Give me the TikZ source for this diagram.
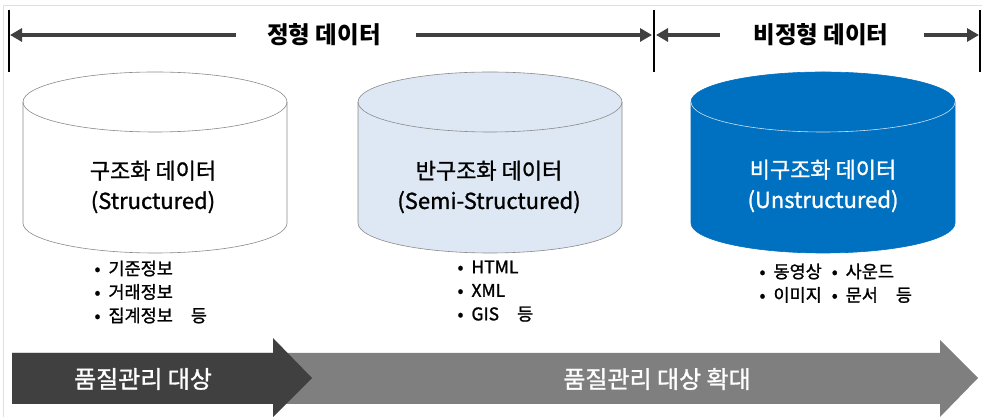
\documentclass[tikz,border=0pt]{standalone}
\usepackage{fontspec}
\newfontfamily\kr{Noto Sans CJK KR}
\newfontfamily\krm{Noto Sans CJK KR}[FakeBold=1.2]
\usetikzlibrary{arrows.meta}
\definecolor{arrowdark}{HTML}{404040}
\definecolor{arrowgray}{HTML}{7F7F7F}
\definecolor{semifill}{HTML}{DEE8F4}
\definecolor{unsfill}{HTML}{0070C0}
\definecolor{cylline}{HTML}{8A8A8A}
\newcommand\itm{•\hspace{8pt}}
\tikzset{
  bar/.style={line width=1.2pt, black},
  span/.style={line width=4pt, arrowdark, -{Triangle[length=12pt,width=13pt]}},
  head/.style={font=\kr\bfseries\fontsize{23.5}{26}\selectfont, text=black},
  cyllabel/.style={font=\krm\fontsize{22}{30}\selectfont, align=center, text=black},
  items/.style={font=\krm\fontsize{17.5}{23.5}\selectfont, align=left, anchor=north west, text=black},
  banner/.style={font=\krm\fontsize{24}{26}\selectfont, text=white},
}
% database cylinder: #1 centre x, #2 fill, #3 outline, #4 top rim colour
\newcommand\dbcyl[4]{%
  \fill[#2] (#1-132,315) -- (#1-132,194)
    arc[start angle=180,end angle=360,x radius=132,y radius=30]
    -- (#1+132,315)
    arc[start angle=0,end angle=180,x radius=132,y radius=30] -- cycle;
  \draw[#3, line width=0.6pt] (#1-132,315) -- (#1-132,194)
    arc[start angle=180,end angle=360,x radius=132,y radius=30]
    -- (#1+132,315)
    arc[start angle=0,end angle=180,x radius=132,y radius=30];
  \draw[#4, line width=0.6pt] (#1-132,315)
    arc[start angle=180,end angle=360,x radius=132,y radius=30];
}
\begin{document}
\begin{tikzpicture}[x=1pt,y=1pt]
\useasboundingbox (0,0) rectangle (982,417);
% faint frame
\draw[black!12, line width=0.8pt] (3,0) -- (3,412) -- (982,412);

% range bars
\coordinate (b1t) at (9,407);   \coordinate (b1b) at (9,345);
\coordinate (b2t) at (654,407); \coordinate (b2b) at (654,345);
\coordinate (b3t) at (980,407); \coordinate (b3b) at (980,345);
\draw[bar] (b1t) -- (b1b);
\draw[bar] (b2t) -- (b2b);
\draw[bar] (b3t) -- (b3b);

% range titles and arrows
\node[head] (structured) at (324,382) {정형 데이터};
\node[head] (unstructured) at (821,382) {비정형 데이터};
\coordinate (s1) at (236,382); \coordinate (s1e) at (10,382);
\coordinate (s2) at (416,382); \coordinate (s2e) at (652,382);
\coordinate (u1) at (720,382); \coordinate (u1e) at (656,382);
\coordinate (u2) at (924,382); \coordinate (u2e) at (979,382);
\draw[span] (s1) -- (s1e);
\draw[span] (s2) -- (s2e);
\draw[span] (u1) -- (u1e);
\draw[span] (u2) -- (u2e);

% cylinders
\dbcyl{155}{white}{cylline}{cylline}
\dbcyl{490}{semifill}{cylline}{cylline}
\dbcyl{823}{unsfill}{unsfill}{white!80!unsfill}

\node[cyllabel] (c1) at (153,230) {구조화 데이터\\(Structured)};
\node[cyllabel] (c2) at (489,230) {반구조화 데이터\\(Semi-Structured)};
\node[cyllabel, text=white] (c3) at (823,231) {비구조화 데이터\\(Unstructured)};

% examples
\node[items] (l1) at (91,160) {\itm 기준정보\\\itm 거래정보\\\itm 집계정보\hspace{18pt}등};
\node[items] (l2) at (454,160) {\itm HTML\\\itm XML\\\itm GIS\hspace{18pt}등};
\node[items] (l3) at (756,157) {\itm 동영상\hspace{10pt}\itm 사운드\\\itm 이미지\hspace{10pt}\itm 문서\hspace{18pt}등};

% scope arrows
\fill[arrowgray] (12,64) -- (940,64) -- (940,77) -- (978,39) -- (940,0) -- (940,13) -- (12,13) -- cycle;
\fill[arrowdark] (12,64) -- (273,64) -- (273,79) -- (312,39) -- (273,0) -- (273,13) -- (12,13) -- cycle;
\node[banner] (q1) at (143,38) {품질관리 대상};
\node[banner] (q2) at (657,38) {품질관리 대상 확대};
\end{tikzpicture}
\end{document}
